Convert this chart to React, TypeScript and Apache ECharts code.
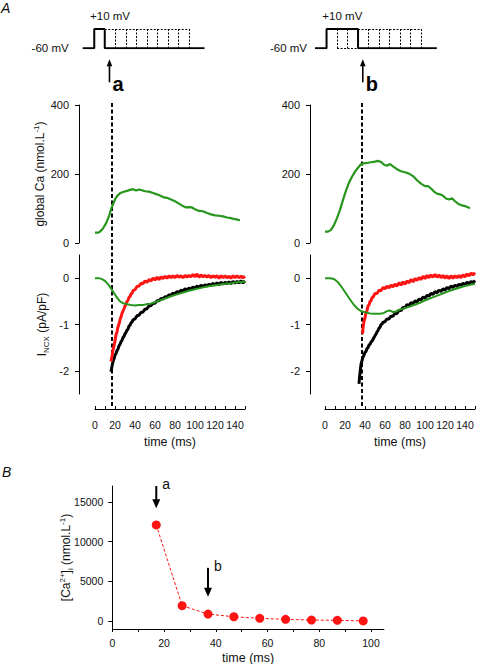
import React, { useEffect, useRef } from "react";
import * as echarts from "echarts";

const FONT = '"Liberation Sans", Arial, Helvetica, sans-serif';
const GREEN = "#27961d";
const RED = "#ff1414";
const INK = "#111";

// ---- voltage protocol (schematic) ----
const HOLD_MV = -60;
const STEP_MV = 10;
const PULSE_DURATIONS = [10, 20, 30, 40, 50, 60, 70, 80, 90];
const PROTO_MIN = -11;
const PROTO_MAX = 105;
const SEL_A = 10;
const SEL_B = 30;
const ARROW_LAG = 4.5;

// ---- traces (time in ms) ----
const MARK_TIME_A = 17;
const MARK_TIME_B = 37;
const TIME_TICKS_A = [0, 10, 20, 30, 40, 50, 60, 70, 80, 90, 100, 110, 120, 130, 140, 150];
const TIME_LABELS_A = [0, 20, 40, 60, 80, 100, 120, 140];
const CA_TICKS = [0, 200, 400];
const INCX_TICKS = [-2, -1, 0];

const CA_A = [[0,30],[3,30],[5,33],[8,42],[11,57],[14,78],[16,98],[18,112],[20,126],[22,136],[25,144],[28,148],[32,151],[35,154],[38,156],[41,152],[44,155],[47,153],[50,150],[54,149],[58,145],[62,141],[66,136],[69,132],[72,131],[76,126],[80,121],[84,114],[88,107],[91,103],[94,104],[97,103],[100,98],[104,93],[108,92],[112,87],[116,83],[120,80],[124,79],[128,77],[132,74],[136,72],[140,69],[145,66]];
const CA_B = [[0,33],[3,33],[6,38],[9,52],[12,72],[15,96],[18,125],[21,152],[24,175],[27,192],[30,207],[33,218],[36,228],[39,231],[42,232],[46,234],[50,236],[53,238],[56,235],[59,227],[62,224],[65,229],[68,222],[72,214],[76,208],[80,205],[84,201],[88,194],[92,182],[96,172],[100,165],[103,165],[106,158],[109,149],[112,143],[115,141],[118,137],[121,129],[124,126],[127,130],[130,121],[133,114],[137,109],[140,107],[145,101]];

const INCX_GREEN_A = [[0,0],[4,0],[7,-0.02],[10,-0.06],[13,-0.13],[16,-0.22],[19,-0.32],[22,-0.42],[25,-0.5],[28,-0.54],[32,-0.56],[36,-0.58],[40,-0.59],[44,-0.58],[48,-0.58],[52,-0.56],[56,-0.55],[60,-0.52],[65,-0.48],[70,-0.44],[76,-0.39],[82,-0.35],[88,-0.31],[94,-0.27],[100,-0.24],[106,-0.21],[112,-0.18],[118,-0.16],[124,-0.14],[130,-0.12],[136,-0.11],[142,-0.09],[150,-0.08]];
const INCX_GREEN_B = [[0,0],[5,0],[9,-0.02],[13,-0.09],[17,-0.2],[21,-0.33],[25,-0.46],[29,-0.58],[33,-0.67],[37,-0.72],[41,-0.74],[45,-0.76],[50,-0.77],[55,-0.77],[59,-0.75],[62,-0.71],[65,-0.7],[68,-0.73],[71,-0.72],[75,-0.68],[79,-0.65],[84,-0.62],[89,-0.58],[95,-0.53],[101,-0.47],[107,-0.42],[113,-0.37],[119,-0.32],[125,-0.27],[131,-0.23],[138,-0.18],[144,-0.15],[150,-0.12]];

const INCX_RED_A = [[16,-1.8],[17,-1.68],[18,-1.55],[19,-1.46],[20,-1.36],[21,-1.22],[22,-1.16],[23,-1.05],[24,-0.99],[25,-0.9],[26,-0.84],[27,-0.76],[28,-0.71],[29,-0.66],[30,-0.6],[31,-0.57],[32,-0.5],[33,-0.48],[34,-0.41],[35,-0.4],[36,-0.34],[37,-0.33],[38,-0.27],[40,-0.25],[42,-0.18],[44,-0.17],[46,-0.11],[48,-0.12],[50,-0.06],[52,-0.09],[54,-0.03],[56,-0.06],[58,0],[60,-0.04],[62,0.02],[64,-0.03],[66,0.03],[68,-0.01],[70,0.04],[72,0],[74,0.05],[76,0.01],[78,0.05],[80,0.01],[82,0.06],[84,0.02],[86,0.05],[88,0.01],[90,0.06],[92,0.02],[94,0.06],[96,0.03],[98,0.08],[100,0.03],[102,0.09],[104,0.02],[106,0.07],[108,0.03],[110,0.06],[112,0.02],[114,0.06],[116,0.01],[118,0.05],[120,0.02],[122,0.05],[124,0],[126,0.05],[128,0.01],[130,0.05],[132,0.01],[134,0.04],[136,0],[138,0.05],[140,0.01],[142,0.05],[144,0.01],[146,0.04],[148,0.01],[150,0.04]];
const INCX_BLACK_A = [[16,-2.02],[17,-1.9],[18,-1.8],[19,-1.74],[20,-1.66],[21,-1.63],[22,-1.56],[23,-1.53],[24,-1.46],[25,-1.43],[26,-1.37],[27,-1.34],[28,-1.28],[29,-1.26],[30,-1.2],[31,-1.17],[32,-1.12],[33,-1.1],[34,-1.03],[35,-1.02],[36,-0.96],[37,-0.95],[38,-0.9],[40,-0.88],[42,-0.81],[44,-0.8],[46,-0.74],[48,-0.73],[50,-0.67],[52,-0.66],[54,-0.6],[56,-0.59],[58,-0.54],[60,-0.54],[62,-0.49],[64,-0.49],[66,-0.44],[68,-0.45],[70,-0.4],[72,-0.41],[74,-0.36],[76,-0.37],[78,-0.32],[80,-0.34],[82,-0.29],[84,-0.31],[86,-0.26],[88,-0.28],[90,-0.23],[92,-0.26],[94,-0.21],[96,-0.24],[98,-0.19],[100,-0.22],[102,-0.17],[104,-0.2],[106,-0.15],[108,-0.19],[110,-0.14],[112,-0.17],[114,-0.13],[116,-0.16],[118,-0.11],[120,-0.15],[122,-0.1],[124,-0.14],[126,-0.09],[128,-0.13],[130,-0.09],[132,-0.12],[134,-0.08],[136,-0.12],[138,-0.07],[140,-0.11],[142,-0.07],[144,-0.1],[146,-0.06],[148,-0.1],[150,-0.06]];
const INCX_RED_B = [[37.5,-1.2],[38,-1.08],[38.5,-1],[39,-0.93],[40,-0.86],[41,-0.74],[42,-0.7],[43,-0.6],[44,-0.58],[45,-0.5],[46,-0.49],[47,-0.42],[48,-0.41],[50,-0.33],[52,-0.33],[54,-0.26],[56,-0.27],[58,-0.2],[60,-0.23],[62,-0.17],[64,-0.21],[66,-0.15],[68,-0.19],[70,-0.13],[72,-0.17],[74,-0.1],[76,-0.15],[78,-0.08],[80,-0.13],[82,-0.06],[84,-0.1],[86,-0.03],[88,-0.08],[90,-0.01],[92,-0.05],[94,0.01],[96,-0.03],[98,0.04],[100,-0.01],[102,0.06],[104,0.01],[106,0.07],[108,0.02],[110,0.08],[112,0.02],[114,0.07],[116,0.01],[118,0.06],[120,0],[122,0.05],[124,-0.01],[126,0.05],[128,0],[130,0.05],[132,0.01],[134,0.06],[136,0.01],[138,0.07],[140,0.03],[142,0.09],[144,0.05],[146,0.11],[148,0.07],[150,0.12]];
const INCX_BLACK_B = [[34,-2.28],[34.5,-2.15],[35,-2.05],[35.5,-1.95],[36,-1.86],[37,-1.78],[38,-1.7],[39,-1.66],[40,-1.6],[41,-1.58],[42,-1.52],[43,-1.5],[44,-1.44],[45,-1.43],[46,-1.38],[47,-1.36],[48,-1.32],[49,-1.28],[50,-1.24],[51,-1.21],[52,-1.16],[53,-1.13],[54,-1.08],[55,-1.06],[56,-1],[57,-0.99],[58,-0.95],[60,-0.94],[62,-0.88],[64,-0.88],[66,-0.82],[68,-0.82],[70,-0.76],[72,-0.76],[74,-0.69],[76,-0.7],[78,-0.63],[80,-0.64],[82,-0.57],[84,-0.59],[86,-0.53],[88,-0.55],[90,-0.49],[92,-0.51],[94,-0.45],[96,-0.47],[98,-0.41],[100,-0.43],[102,-0.37],[104,-0.39],[106,-0.33],[108,-0.35],[110,-0.29],[112,-0.32],[114,-0.26],[116,-0.29],[118,-0.23],[120,-0.26],[122,-0.2],[124,-0.23],[126,-0.17],[128,-0.2],[130,-0.15],[132,-0.18],[134,-0.13],[136,-0.16],[138,-0.11],[140,-0.14],[142,-0.09],[144,-0.12],[146,-0.07],[148,-0.1],[150,-0.05]];

// ---- panel B ----
const B_TIMES = [17, 27, 37, 47, 57, 67, 77, 87, 97];
const B_CA = [12100, 1930, 880, 540, 340, 215, 130, 90, 20];
const B_TIME_TICKS = [0, 10, 20, 30, 40, 50, 60, 70, 80, 90, 100];
const B_TIME_LABELS = [0, 20, 40, 60, 80, 100];
const B_CA_TICKS = [0, 5000, 10000, 15000];
const B_ARROWS = [
  { t: 17, from: 17000, to: 14200, label: "a" },
  { t: 37, from: 6700, to: 3050, label: "b" },
];

function protocolSolid(sel: number) {
  return [[PROTO_MIN, HOLD_MV], [0, HOLD_MV], [0, STEP_MV], [sel, STEP_MV], [sel, HOLD_MV], [PROTO_MAX, HOLD_MV]];
}
function protocolDashes(sel: number) {
  const last = PULSE_DURATIONS[PULSE_DURATIONS.length - 1];
  const segs: number[][][] = [[[sel, STEP_MV], [last, STEP_MV]]];
  PULSE_DURATIONS.forEach((d) => {
    if (d !== sel) segs.push([[d, STEP_MV], [d, HOLD_MV]]);
  });
  const shorter = PULSE_DURATIONS.filter((d) => d < sel);
  if (shorter.length) segs.push([[shorter[0], HOLD_MV], [sel, HOLD_MV]]);
  return segs.map(([a, b]) => [{ coord: a }, { coord: b }]);
}

const axisLineStyle = { color: "#000", width: 1 };
const nameRich = {
  n: { fontSize: 12, lineHeight: 16, color: INK, fontFamily: FONT, fontWeight: "normal" },
  sup: { fontSize: 8, lineHeight: 6, verticalAlign: "top", color: INK, fontFamily: FONT, fontWeight: "normal" },
  sub: { fontSize: 8, lineHeight: 6, verticalAlign: "bottom", color: INK, fontFamily: FONT, fontWeight: "normal" },
};
const plain = (v: number) => String(v);

function protoX(grid: number) {
  return { gridIndex: grid, type: "value", min: PROTO_MIN, max: PROTO_MAX, show: false };
}
function protoY(grid: number, margin: number) {
  return {
    gridIndex: grid, type: "value", min: HOLD_MV, max: STEP_MV,
    axisLine: { show: false }, axisTick: { show: false }, splitLine: { show: false },
    axisLabel: { customValues: [HOLD_MV], formatter: (v: number) => `${v} mV`, fontSize: 11.5, color: INK, margin },
  };
}
function traceTimeX(grid: number, visible: boolean) {
  if (!visible) return { gridIndex: grid, type: "value", min: 0, max: 150, show: false };
  return {
    gridIndex: grid, type: "value", min: 0, max: 150, position: "bottom", offset: 15,
    axisLine: { show: true, onZero: false, lineStyle: axisLineStyle },
    axisTick: { show: true, inside: true, length: 3, customValues: TIME_TICKS_A, lineStyle: axisLineStyle },
    axisLabel: { customValues: TIME_LABELS_A, fontSize: 10.5, color: INK, margin: 10, formatter: plain },
    splitLine: { show: false },
  };
}
function caY(grid: number, withName: boolean, offset: number) {
  return {
    gridIndex: grid, type: "value", min: 0, max: 400, offset,
    axisLine: { show: true, onZero: false, lineStyle: axisLineStyle },
    axisTick: { show: true, length: 4, customValues: CA_TICKS, lineStyle: axisLineStyle },
    axisLabel: { customValues: CA_TICKS, fontSize: 11, color: INK, margin: 10, formatter: plain },
    splitLine: { show: false },
    ...(withName
      ? {
          name: "{n|global Ca (nmol.L}{sup|-1}{n|)}", nameLocation: "middle", nameGap: 31, nameMoveOverlap: false,
          nameTextStyle: { rich: nameRich, fontWeight: "normal" },
        }
      : {}),
  };
}
function incxY(grid: number, withName: boolean, offset: number) {
  return {
    gridIndex: grid, type: "value", min: -2.5, max: 0.5, offset,
    axisLine: { show: true, onZero: false, lineStyle: axisLineStyle },
    axisTick: { show: true, length: 4, customValues: INCX_TICKS, lineStyle: axisLineStyle },
    axisLabel: { customValues: INCX_TICKS, fontSize: 11, color: INK, margin: 10, formatter: plain },
    splitLine: { show: false },
    ...(withName
      ? {
          name: "{n|I}{sub|NCX}{n| (pA/pF)}", nameLocation: "middle", nameGap: 29, nameMoveOverlap: false,
          nameTextStyle: { rich: nameRich, fontWeight: "normal" },
        }
      : {}),
  };
}
function trace(grid: number, data: number[][], color: string, width: number, z: number) {
  return {
    type: "line", xAxisIndex: grid, yAxisIndex: grid, data, showSymbol: false, symbol: "none",
    lineStyle: { color, width }, z, silent: true,
  };
}

function buildOption() {
  const gridBase = { show: false, containLabel: false, outerBoundsMode: "none" };
  return {
    animation: false,
    textStyle: { fontFamily: FONT },
    grid: [
      { ...gridBase, left: 82.7, top: 29, width: 121.8, height: 19.3 },
      { ...gridBase, left: 315, top: 29, width: 121.8, height: 19.3 },
      { ...gridBase, left: 95, top: 105, width: 150, height: 138 },
      { ...gridBase, left: 325, top: 105, width: 150, height: 138 },
      { ...gridBase, left: 95, top: 255, width: 150, height: 139 },
      { ...gridBase, left: 325, top: 255, width: 150, height: 139 },
      { ...gridBase, left: 112.3, top: 486, width: 271.6, height: 143 },
    ],
    xAxis: [
      protoX(0), protoX(1),
      traceTimeX(2, false), traceTimeX(3, false),
      traceTimeX(4, true), traceTimeX(5, true),
      {
        gridIndex: 6, type: "value", min: 0, max: 105,
        axisLine: { show: true, onZero: false, lineStyle: axisLineStyle },
        axisTick: { show: true, length: 3, customValues: B_TIME_TICKS, lineStyle: axisLineStyle },
        axisLabel: { customValues: B_TIME_LABELS, fontSize: 10.5, color: INK, margin: 8, formatter: plain },
        splitLine: { show: false },
      },
    ],
    yAxis: [
      protoY(0, 14), protoY(1, 8),
      caY(2, true, 16), caY(3, false, 15),
      incxY(4, true, 16), incxY(5, false, 15),
      {
        gridIndex: 6, type: "value", min: -1000, max: 17000,
        axisLine: { show: true, onZero: false, lineStyle: axisLineStyle },
        axisTick: { show: true, length: 4, customValues: B_CA_TICKS, lineStyle: axisLineStyle },
        axisLabel: { customValues: B_CA_TICKS, fontSize: 10.5, color: INK, margin: 9, formatter: plain },
        splitLine: { show: false },
        name: "{n|[Ca}{sup|2+}{n|]}{sub|i}{n| (nmol.L}{sup|-1}{n|)}", nameLocation: "middle", nameGap: 38, nameMoveOverlap: false,
        nameTextStyle: { rich: nameRich, fontWeight: "normal" },
      },
    ],
    series: [
      ...[[0, SEL_A], [1, SEL_B]].map(([g, sel]) => ({
        type: "line", xAxisIndex: g, yAxisIndex: g, data: protocolSolid(sel),
        symbol: "none", showSymbol: false, silent: true,
        lineStyle: { color: "#000", width: 2 },
        markLine: {
          silent: true, symbol: ["none", "none"], label: { show: false },
          lineStyle: { color: "#000", width: 1, type: [2, 1.5] },
          emphasis: { disabled: true },
          data: protocolDashes(sel),
        },
      })),
      trace(2, CA_A, GREEN, 2.2, 3),
      trace(3, CA_B, GREEN, 2.2, 3),
      trace(4, INCX_BLACK_A, "#000", 3, 2),
      trace(4, INCX_RED_A, RED, 3, 3),
      trace(4, INCX_GREEN_A, GREEN, 2, 4),
      trace(5, INCX_BLACK_B, "#000", 3, 2),
      trace(5, INCX_RED_B, RED, 3, 3),
      trace(5, INCX_GREEN_B, GREEN, 2, 4),
      {
        type: "line", xAxisIndex: 6, yAxisIndex: 6,
        data: B_TIMES.map((t, i) => [t, B_CA[i]]),
        symbol: "circle", symbolSize: 9, showSymbol: true, silent: true,
        itemStyle: { color: RED, borderWidth: 0 },
        lineStyle: { color: RED, width: 1, type: [3, 2] },
      },
    ],
  };
}

export default function App() {
  const ref = useRef<HTMLDivElement>(null);
  useEffect(() => {
    document.body.style.margin = "0";
    const chart = echarts.init(ref.current!, null, { renderer: "svg" });
    chart.setOption(buildOption() as any);

    const px = (grid: number, x: number, y: number) =>
      chart.convertToPixel({ gridIndex: grid } as any, [x, y]) as number[];

    const g: any[] = [];
    const text = (t: string, x: number, y: number, extra: any = {}) =>
      g.push({
        type: "text", silent: true,
        style: {
          text: t, x, y, fill: INK, fontFamily: FONT, fontSize: 12, fontWeight: "normal",
          align: "left", textAlign: "left", verticalAlign: "middle", textVerticalAlign: "middle",
          ...extra,
        },
      });

    text("A", 1, 8, { fontSize: 14, fontStyle: "italic" });
    text("B", 2, 472, { fontSize: 14, fontStyle: "italic" });

    // x-axis titles, centred under each time axis
    [
      { grid: 4, t: 75, min: -2.5, dy: 48 },
      { grid: 5, t: 75, min: -2.5, dy: 48 },
      { grid: 6, t: 52.5, min: -1000, dy: 29 },
    ].forEach(({ grid, t, min, dy }) => {
      const p = px(grid, t, min);
      text("time (ms)", p[0], p[1] + dy, { fontSize: 12.5, align: "center", textAlign: "center" });
    });

    // protocol annotations
    [
      { grid: 0, sel: SEL_A, label: "a" },
      { grid: 1, sel: SEL_B, label: "b" },
    ].forEach(({ grid, sel, label }) => {
      const top = px(grid, -4, STEP_MV);
      text("+10 mV", top[0], top[1] - 13, { fontSize: 11.5 });
      const base = px(grid, sel + ARROW_LAG, HOLD_MV);
      const ax = base[0];
      const tip = base[1] + 11;
      const tail = base[1] + 34;
      g.push({ type: "line", silent: true, shape: { x1: ax, y1: tip + 6, x2: ax, y2: tail }, style: { stroke: "#000", lineWidth: 1.6 } });
      g.push({ type: "polygon", silent: true, shape: { points: [[ax - 2.8, tip + 7], [ax + 2.8, tip + 7], [ax, tip]] }, style: { fill: "#000" } });
      text(label, ax + 3, base[1] + 36, { fontSize: 20, fontWeight: "bold", fill: "#000" });
    });

    // dashed time markers through the traces
    [
      { top: 2, bottom: 4, t: MARK_TIME_A },
      { top: 3, bottom: 5, t: MARK_TIME_B },
    ].forEach(({ top, bottom, t }) => {
      const p1 = px(top, t, 400);
      const p2 = px(bottom, t, -2.5);
      g.push({
        type: "line", silent: true,
        shape: { x1: p1[0], y1: p1[1] - 2, x2: p1[0], y2: p2[1] + 13 },
        style: { stroke: "#000", lineWidth: 2, lineDash: [4, 2.5] },
      });
    });

    // panel B arrows
    B_ARROWS.forEach((a) => {
      const p1 = px(6, a.t, a.from);
      const p2 = px(6, a.t, a.to);
      g.push({ type: "line", silent: true, shape: { x1: p1[0], y1: p1[1], x2: p2[0], y2: p2[1] - 8 }, style: { stroke: "#000", lineWidth: 2 } });
      g.push({ type: "polygon", silent: true, shape: { points: [[p2[0] - 4, p2[1] - 9], [p2[0] + 4, p2[1] - 9], [p2[0], p2[1]]] }, style: { fill: "#000" } });
      text(a.label, p1[0] + 6, p1[1] - 2, { fontSize: 14 });
    });

    chart.setOption({ graphic: { elements: g } } as any);
    return () => chart.dispose();
  }, []);
  return <div ref={ref} style={{ width: 480, height: 664 }} />;
}
